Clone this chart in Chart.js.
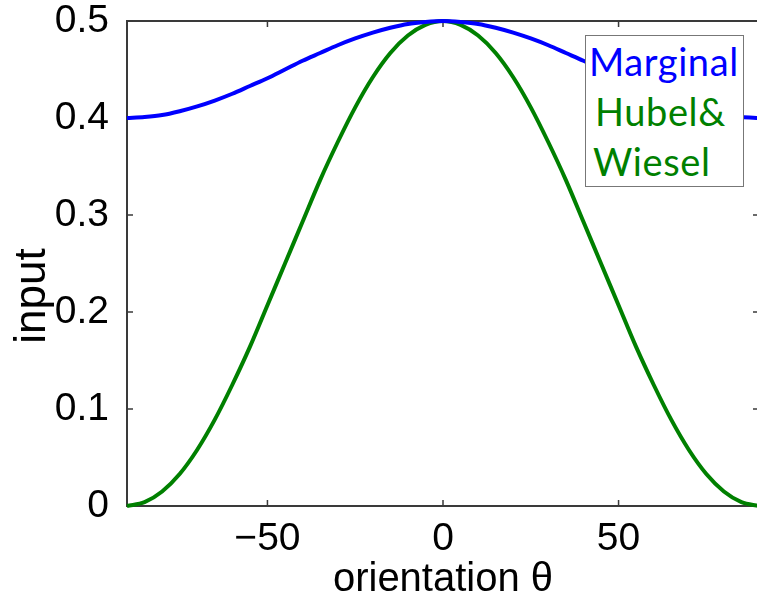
<!DOCTYPE html>
<html>
<head>
<meta charset="utf-8">
<script src="https://cdn.jsdelivr.net/npm/chart.js@4/dist/chart.umd.min.js"></script>
<style>
  html, body { margin: 0; padding: 0; background: #fff; overflow: hidden; width: 757px; height: 598px; }
  #wrap { position: absolute; left: 0; top: 0; width: 759px; height: 598px; }
  #legend {
    position: absolute; left: 585px; top: 35px; width: 157px; height: 150px;
    border: 1.5px solid #777; background: #fff;
    font-family: Lato, "Open Sans", sans-serif; font-size: 38px; letter-spacing: 0.6px;
  }
  #legend div { height: 50px; line-height: 50px; white-space: nowrap; }
  #ytitle {
    position: absolute; left: 30px; top: 296px; width: 200px; height: 50px;
    margin-left: -100px; margin-top: -25px; line-height: 50px; text-align: center;
    transform: rotate(-90deg);
    font-family: 'Liberation Sans', Arial, sans-serif; font-size: 44px; color: #000;
  }
</style>
</head>
<body>
<div id="wrap"><canvas id="c" width="759" height="598"></canvas></div>
<div id="ytitle">input</div>
<div id="legend">
  <div style="color:#0000ff; padding-left:3px;">Marginal</div>
  <div style="color:#008000; padding-left:9px;">Hubel&amp;</div>
  <div style="color:#008000; padding-left:7px;">Wiesel</div>
</div>
<script>
// ---- data ----
const orientation = [-90,-85,-80,-75,-70,-65,-60,-55,-50,-45,-40,-35,-30,-25,-20,-15,-10,-5,0,
                     5,10,15,20,25,30,35,40,45,50,55,60,65,70,75,80,85,90];
const marginal = [0.400,0.401,0.403,0.407,0.412,0.418,0.425,0.433,0.441,0.450,0.459,0.467,0.475,0.482,0.488,0.493,0.497,0.499,0.500,
                  0.499,0.497,0.493,0.488,0.482,0.475,0.467,0.459,0.450,0.441,0.433,0.425,0.418,0.412,0.407,0.403,0.401,0.400];
const hubelWiesel = [0.000,0.004,0.015,0.033,0.058,0.089,0.125,0.164,0.207,0.250,0.293,0.336,0.375,0.411,0.442,0.467,0.485,0.496,0.500,
                     0.496,0.485,0.467,0.442,0.411,0.375,0.336,0.293,0.250,0.207,0.164,0.125,0.089,0.058,0.033,0.015,0.004,0.000];
const xTicks = [-50, 0, 50];
const yTicks = [0, 0.1, 0.2, 0.3, 0.4, 0.5];
const xRange = [-90, 90];
const yRange = [0, 0.5];

const toPts = arr => orientation.map((x, i) => ({ x: x, y: arr[i] }));

const frame = {
  id: 'frame',
  beforeDatasetsDraw(chart) {
    const { ctx, chartArea: a, scales } = chart;
    ctx.save();
    ctx.strokeStyle = '#3a3a3a';
    ctx.lineWidth = 2;
    ctx.strokeRect(a.left, a.top, a.right - a.left, a.bottom - a.top);
    ctx.lineWidth = 1.5;
    const L = 6;
    ctx.beginPath();
    xTicks.forEach(v => {
      const px = scales.x.getPixelForValue(v);
      ctx.moveTo(px, a.bottom); ctx.lineTo(px, a.bottom - L);
      ctx.moveTo(px, a.top); ctx.lineTo(px, a.top + L);
    });
    yTicks.forEach(v => {
      const py = scales.y.getPixelForValue(v);
      ctx.moveTo(a.left, py); ctx.lineTo(a.left + L, py);
      ctx.moveTo(a.right, py); ctx.lineTo(a.right - L, py);
    });
    ctx.stroke();
    ctx.restore();
  }
};

const fam = "'Liberation Sans', Arial, sans-serif";

new Chart(document.getElementById('c'), {
  type: 'line',
  data: {
    datasets: [
      { label: 'Marginal', data: toPts(marginal), borderColor: '#0000ff', borderWidth: 4,
        pointRadius: 0, tension: 0.4, cubicInterpolationMode: 'monotone', fill: false, clip: false },
      { label: 'Hubel& Wiesel', data: toPts(hubelWiesel), borderColor: '#008000', borderWidth: 4,
        pointRadius: 0, tension: 0.4, cubicInterpolationMode: 'monotone', fill: false, clip: false }
    ]
  },
  options: {
    responsive: false,
    animation: false,
    devicePixelRatio: 1,
    layout: { padding: { top: 21, right: 0, left: 0, bottom: 0 } },
    plugins: { legend: { display: false }, tooltip: { enabled: false } },
    scales: {
      x: {
        type: 'linear', min: xRange[0], max: xRange[1],
        afterBuildTicks: s => { s.ticks = xTicks.map(v => ({ value: v })); },
        afterFit: s => { s.height = 92; },
        grid: { display: false }, border: { display: false },
        ticks: { color: '#000', font: { family: fam, size: 39 }, padding: 2, maxRotation: 0,
                 callback: v => (v < 0 ? '\u2212' + Math.abs(v) : String(v)) },
        title: { display: true, text: 'orientation \u03b8', color: '#000',
                 font: { family: fam, size: 40, lineHeight: 1 },
                 padding: { top: 0, bottom: -2 } }
      },
      y: {
        type: 'linear', min: yRange[0], max: yRange[1],
        afterBuildTicks: s => { s.ticks = yTicks.map(v => ({ value: v })); },
        afterFit: s => { s.width = 127; },
        grid: { display: false }, border: { display: false },
        ticks: { color: '#000', font: { family: fam, size: 39, lineHeight: 0.5 }, padding: 10,
                 callback: v => (v === 0 ? '0' : v.toFixed(1)) },
        title: { display: false }
      }
    }
  },
  plugins: [frame]
});
</script>
</body>
</html>
